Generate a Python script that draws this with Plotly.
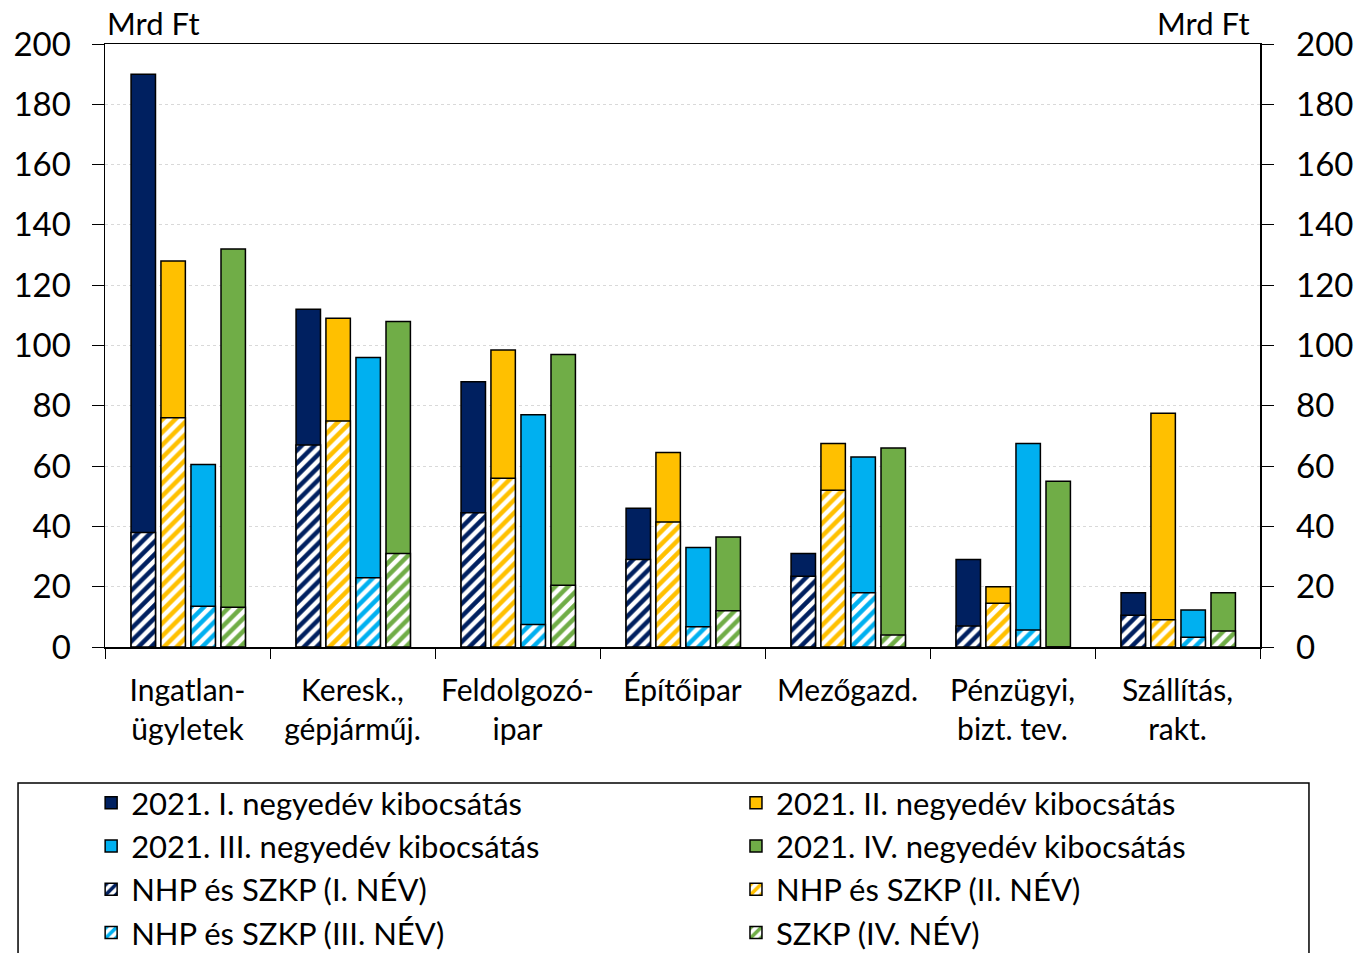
import plotly.graph_objects as go

categories = ["Ingatlan-<br>ügyletek", "Keresk.,<br>gépjárműj.", "Feldolgozó-<br>ipar",
              "Építőipar", "Mezőgazd.", "Pénzügyi,<br>bizt. tev.", "Szállítás,<br>rakt."]

q1_total = [190, 112, 88, 46, 31, 29, 18]
q2_total = [128, 109, 98.5, 64.5, 67.5, 20, 77.5]
q3_total = [60.5, 96, 77, 33, 63, 67.5, 12.3]
q4_total = [132, 108, 97, 36.5, 66, 55, 18]

q1_nhp = [38, 67, 44.5, 29, 23.5, 7, 10.5]
q2_nhp = [76, 75, 56, 41.5, 52, 14.5, 9]
q3_nhp = [13.5, 23, 7.5, 6.7, 18, 5.6, 3.2]
q4_nhp = [13.2, 31, 20.5, 12, 4, 0, 5.3]

total_names = ["2021. I. negyedév kibocsátás", "2021. II. negyedév kibocsátás",
               "2021. III. negyedév kibocsátás", "2021. IV. negyedév kibocsátás"]
nhp_names = ["NHP és SZKP (I. NÉV)", "NHP és SZKP (II. NÉV)",
             "NHP és SZKP (III. NÉV)", "SZKP (IV. NÉV)"]

colors = ["#002060", "#FFC000", "#00B0F0", "#70AD47"]
offsets = [-0.342, -0.161, 0.021, 0.203]
bar_w = 0.148
legend_of = ["legend", "legend2", "legend", "legend2"]

totals = [q1_total, q2_total, q3_total, q4_total]
nhps = [q1_nhp, q2_nhp, q3_nhp, q4_nhp]

FONT = "Lato"
fig = go.Figure()
for i in range(4):
    fig.add_trace(go.Bar(
        x=categories, y=totals[i], name=total_names[i], legend=legend_of[i],
        marker=dict(color=colors[i], line=dict(color="black", width=1.5)),
        offset=offsets[i], width=bar_w, legendrank=i + 1))
for i in range(4):
    fig.add_trace(go.Bar(
        x=categories, y=nhps[i], name=nhp_names[i], legend=legend_of[i],
        marker=dict(color="white", line=dict(color="black", width=1.5),
                    pattern=dict(shape="/", fgcolor=colors[i], bgcolor="white",
                                 size=9, solidity=0.5, fillmode="replace", fgopacity=1)),
        offset=offsets[i], width=bar_w, legendrank=i + 5))

legend_common = dict(orientation="v", yanchor="top", xanchor="left", traceorder="normal",
                     tracegroupgap=0, font=dict(family=FONT, size=31, color="black"),
                     bgcolor="rgba(0,0,0,0)", borderwidth=0)

fig.update_layout(
    width=1357, height=953,
    margin=dict(l=105, r=97, t=44, b=306, autoexpand=False),
    barmode="overlay",
    plot_bgcolor="white", paper_bgcolor="white",
    font=dict(family=FONT, color="black", size=30),
    showlegend=True,
    legend=dict(x=-0.012, y=-0.214, **legend_common),
    legend2=dict(x=0.5463, y=-0.214, **legend_common),
    xaxis=dict(showline=True, linecolor="black", linewidth=1.5, mirror=True,
               ticks="outside", tickson="boundaries", ticklen=10, tickcolor="black",
               tickfont=dict(family=FONT, size=30), showgrid=False,
               ticklabelstandoff=16, automargin=False),
    yaxis=dict(range=[0, 200], dtick=20, showline=True, linecolor="black", linewidth=1.5,
               ticks="outside", ticklen=12, tickcolor="black",
               tickfont=dict(family=FONT, size=33), ticklabelstandoff=14,
               showgrid=True, gridcolor="#d9d9d9", griddash="dot", gridwidth=1,
               zeroline=False, automargin=False),
    yaxis2=dict(range=[0, 200], dtick=20, overlaying="y", side="right", showline=True,
                linecolor="black", linewidth=1.5, ticks="outside", ticklen=12,
                tickcolor="black", tickfont=dict(family=FONT, size=33),
                ticklabelstandoff=16, showgrid=False, zeroline=False, automargin=False),
    annotations=[
        dict(text="Mrd Ft", xref="paper", yref="paper", x=0.0, y=1.0, yanchor="bottom",
             xanchor="left", showarrow=False, yshift=0, font=dict(family=FONT, size=31)),
        dict(text="Mrd Ft", xref="paper", yref="paper", x=0.993, y=1.0, yanchor="bottom",
             xanchor="right", showarrow=False, yshift=0, font=dict(family=FONT, size=31)),
    ],
    shapes=[dict(type="rect", xref="paper", yref="paper", x0=-0.0753, x1=1.0424,
                 y0=-0.2255, y1=-0.6, line=dict(color="black", width=1.5))],
)
fig.add_trace(go.Scatter(x=[categories[0]], y=[None], yaxis="y2", showlegend=False,
                         hoverinfo="skip"))

page_fix = ("document.documentElement.style.overflow='hidden';"
            "document.body.style.margin='0';document.body.style.overflow='hidden';")
fig.write_html("out.html", post_script=page_fix,
               config={"displayModeBar": False, "staticPlot": True})
